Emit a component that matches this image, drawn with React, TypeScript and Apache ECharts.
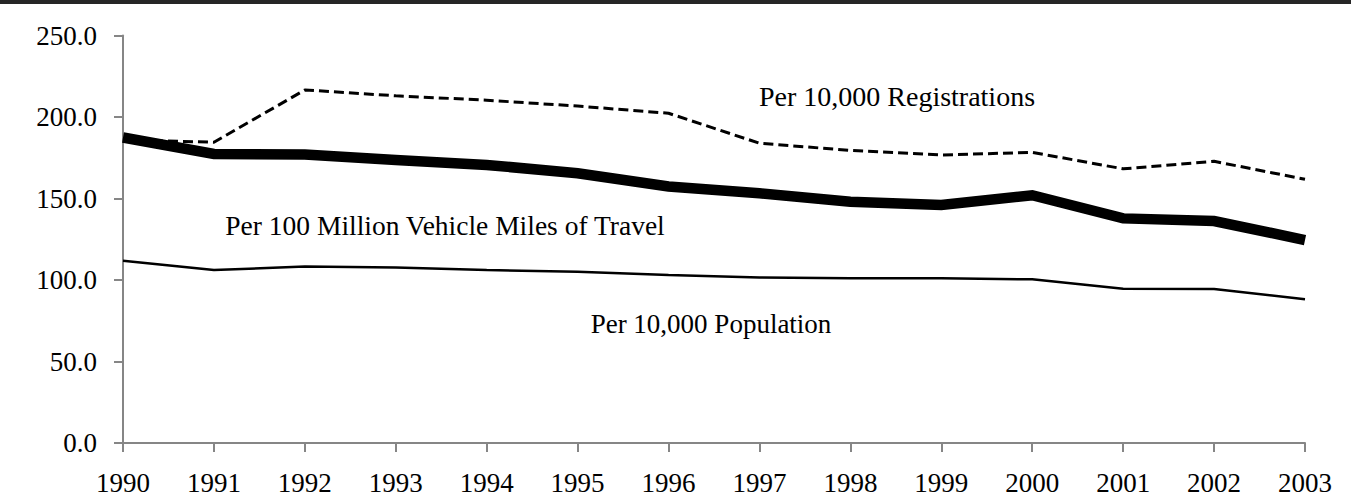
import React, { useEffect, useRef } from "react";
import * as echarts from "echarts";

const years = ["1990","1991","1992","1993","1994","1995","1996","1997","1998","1999","2000","2001","2002","2003"];
const perRegistrations = [186.0, 184.5, 216.6, 213.0, 210.3, 206.7, 202.3, 183.9, 179.5, 176.7, 178.3, 168.2, 172.8, 161.8];
const perVMT = [187.4, 177.3, 177.0, 173.6, 170.6, 165.5, 157.4, 153.2, 148.0, 146.0, 152.0, 137.8, 136.2, 124.5];
const perPopulation = [111.8, 106.1, 108.3, 107.6, 106.1, 105.1, 103.1, 101.6, 101.0, 101.0, 100.4, 94.6, 94.5, 88.2];

const serif = "Liberation Serif";

export default function App() {
  const ref = useRef<HTMLDivElement>(null);
  useEffect(() => {
    if (!ref.current) return;
    const chart = echarts.init(ref.current, null, { renderer: "svg" });
    chart.setOption({
      animation: false,
      backgroundColor: "#ffffff",
      textStyle: { fontFamily: serif },
      grid: { left: 123, right: 46, top: 35.5, bottom: 56, containLabel: false },
      xAxis: {
        type: "category",
        data: years,
        boundaryGap: false,
        axisLine: { lineStyle: { color: "#868686", width: 2 } },
        axisTick: { show: true, length: 9, inside: false, alignWithLabel: true, lineStyle: { color: "#868686", width: 2 } },
        axisLabel: { color: "#000", fontFamily: serif, fontSize: 27, margin: 26 },
        splitLine: { show: false },
      },
      yAxis: {
        type: "value",
        min: 0,
        max: 250,
        interval: 50,
        axisLine: { show: true, lineStyle: { color: "#868686", width: 2 } },
        axisTick: { show: true, length: 9, inside: false, lineStyle: { color: "#868686", width: 2 } },
        axisLabel: { color: "#000", fontFamily: serif, fontSize: 27, margin: 26, formatter: (v: number) => v.toFixed(1) },
        splitLine: { show: false },
      },
      series: [
        {
          name: "Per 10,000 Registrations",
          type: "line",
          data: perRegistrations,
          symbol: "none",
          lineStyle: { color: "#000", width: 3, type: [10, 5] },
          z: 2,
        },
        {
          name: "Per 10,000 Population",
          type: "line",
          data: perPopulation,
          symbol: "none",
          lineStyle: { color: "#000", width: 2.5 },
          z: 3,
        },
        {
          name: "Per 100 Million Vehicle Miles of Travel",
          type: "line",
          data: perVMT,
          symbol: "none",
          lineStyle: { color: "#000", width: 10.5, join: "miter" },
          z: 4,
        },
      ],
      graphic: [
        { type: "rect", left: 0, top: 0, shape: { x: 0, y: 0, width: 1351, height: 4 }, style: { fill: "#262626" } },
        { type: "text", x: 897, y: 96, style: { text: "Per 10,000 Registrations", fontFamily: serif, fontSize: 28, fill: "#000", align: "center", verticalAlign: "middle" } },
        { type: "text", x: 445, y: 225, style: { text: "Per 100 Million Vehicle Miles of Travel", fontFamily: serif, fontSize: 27.5, fill: "#000", align: "center", verticalAlign: "middle" } },
        { type: "text", x: 711, y: 324, style: { text: "Per 10,000 Population", fontFamily: serif, fontSize: 27, fill: "#000", align: "center", verticalAlign: "middle" } },
      ],
    });
    return () => chart.dispose();
  }, []);
  return <div ref={ref} style={{ position: "fixed", left: 0, top: 0, width: 1351, height: 499 }} />;
}
